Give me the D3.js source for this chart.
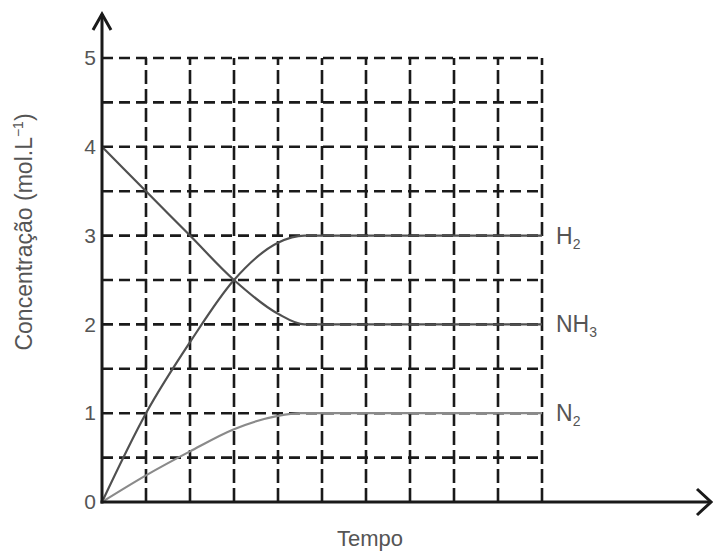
<!DOCTYPE html>
<html>
<head>
<meta charset="utf-8">
<script src="https://cdn.jsdelivr.net/npm/d3@7"></script>
<style>
  body { margin: 0; background: #fff; }
  text { font-family: "Liberation Sans", Arial, sans-serif; fill: #555; }
</style>
</head>
<body>
<div id="chart"></div>
<script>
// concentration (mol/L), time in grid units
const h2Time = [0, 1, 2, 3, 4, 4.6, 10];
const h2Conc = [0, 1.0, 1.8, 2.5, 2.92, 3.0, 3.0];
const nh3Time = [0, 1, 2, 3, 4, 4.6, 10];
const nh3Conc = [4, 3.5, 3.0, 2.5, 2.12, 2.0, 2.0];
const n2Time = [0, 1, 2, 3, 4, 4.5, 10];
const n2Conc = [0, 0.3, 0.57, 0.82, 0.97, 1.0, 1.0];
const yTicks = [0, 1, 2, 3, 4, 5];
const seriesNames = [["H", "2"], ["NH", "3"], ["N", "2"]];

const width = 713, height = 553;

const svg = d3.select('#chart').append('svg')
  .attr('width', width)
  .attr('height', height);

const x = d3.scaleLinear().domain([0, 10]).range([102, 542]);
const y = d3.scaleLinear().domain([0, 5]).range([502, 58]);

const grid = svg.append('g').attr('stroke', '#1a1a1a').attr('stroke-width', 2.6);

// horizontal dashed lines every 0.5
grid.selectAll('.h')
  .data(d3.range(1, 11).map(d => d / 2))
  .enter().append('line')
  .attr('x1', x(0)).attr('x2', x(10))
  .attr('y1', d => y(d)).attr('y2', d => y(d))
  .attr('stroke-dasharray', '11,6');

// vertical dashed lines every unit
grid.selectAll('.v')
  .data(d3.range(1, 11))
  .enter().append('line')
  .attr('x1', d => x(d)).attr('x2', d => x(d))
  .attr('y1', y(0)).attr('y2', y(5))
  .attr('stroke-dasharray', '14,5');

// curves
const line = d3.line()
  .x(d => x(d[0]))
  .y(d => y(d[1]))
  .curve(d3.curveMonotoneX);

const series = [
  { t: h2Time, c: h2Conc, color: '#505050' },
  { t: nh3Time, c: nh3Conc, color: '#505050' },
  { t: n2Time, c: n2Conc, color: '#8a8a8a' }
];

svg.selectAll('.curve')
  .data(series)
  .enter().append('path')
  .attr('d', s => line(d3.zip(s.t, s.c)))
  .attr('fill', 'none')
  .attr('stroke', s => s.color)
  .attr('stroke-width', 2.2);

// axes with open arrow heads
const axes = svg.append('g')
  .attr('stroke', '#1a1a1a')
  .attr('stroke-width', 3)
  .attr('fill', 'none');

axes.append('line')
  .attr('x1', x(0)).attr('y1', y(0) + 1.5)
  .attr('x2', x(0)).attr('y2', 14);
axes.append('path')
  .attr('d', `M${x(0) - 9},30 L${x(0)},14 L${x(0) + 9},30`);

axes.append('line')
  .attr('x1', x(0) - 1.5).attr('y1', y(0))
  .attr('x2', 711).attr('y2', y(0));
axes.append('path')
  .attr('d', `M697,${y(0) - 13} L711,${y(0)} L697,${y(0) + 13}`);

// y tick labels
const yAxis = d3.axisLeft(y)
  .tickValues(yTicks)
  .tickFormat(d3.format('d'))
  .tickSize(0)
  .tickPadding(6);

const yAxisG = svg.append('g')
  .attr('transform', `translate(${x(0)},0)`)
  .call(yAxis);
yAxisG.select('.domain').remove();
yAxisG.selectAll('text')
  .attr('font-size', '21px')
  .attr('font-family', '"Liberation Sans", Arial, sans-serif')
  .attr('fill', '#555');

// series labels at the right end
const labelY = [3, 2, 1];
const labels = svg.selectAll('.lab')
  .data(seriesNames)
  .enter().append('text')
  .attr('x', 556)
  .attr('y', (d, i) => y(labelY[i]) + 8)
  .attr('font-size', '23px');
labels.append('tspan').text(d => d[0]);
labels.append('tspan')
  .attr('font-size', '14px')
  .attr('dy', 5)
  .text(d => d[1]);

// axis titles
svg.append('text')
  .attr('x', 370)
  .attr('y', 546)
  .attr('text-anchor', 'middle')
  .attr('font-size', '22px')
  .text('Tempo');

const yTitle = svg.append('text')
  .attr('transform', 'translate(32,232) rotate(-90)')
  .attr('text-anchor', 'middle')
  .attr('font-size', '23px');
yTitle.append('tspan').text('Concentração (mol.L');
yTitle.append('tspan').attr('font-size', '14px').attr('dy', -9).text('−1');
yTitle.append('tspan').attr('dy', 9).text(')');
</script>
</body>
</html>
